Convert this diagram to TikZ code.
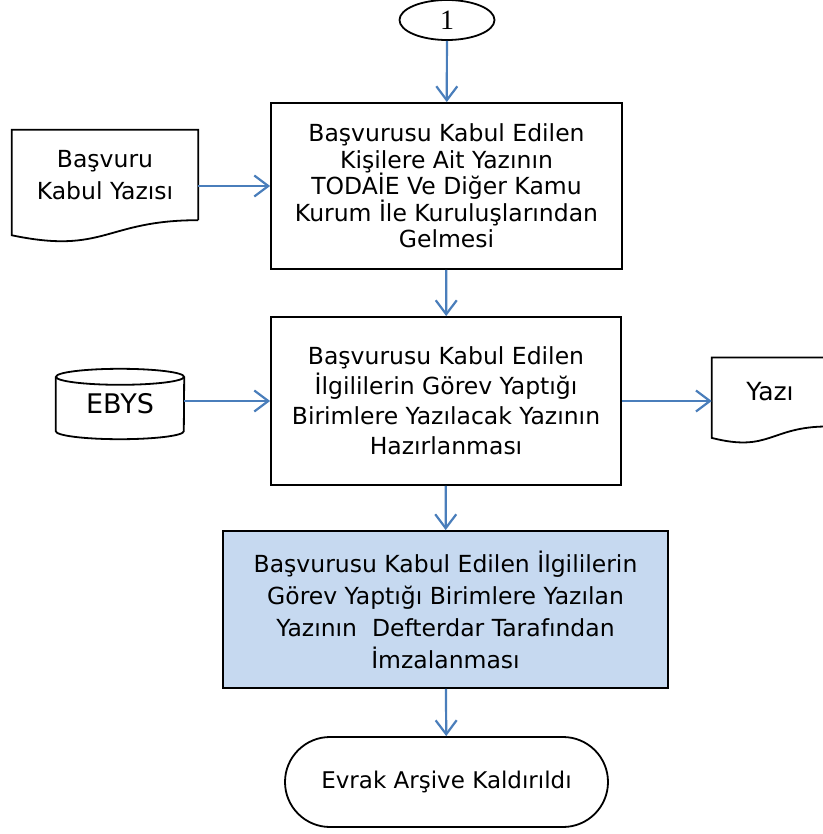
\documentclass[tikz,border=0pt]{standalone}
\usepackage{fontspec}
\setmainfont{DejaVu Sans}
\newfontfamily\rakamfont{Liberation Serif}
\usetikzlibrary{arrows.meta,shapes.geometric,calc}
\definecolor{okmavi}{RGB}{74,126,187}
\definecolor{kutumavi}{RGB}{198,217,240}
\tikzset{>={Straight Barb[length=14pt,width=21pt]}}
\tikzset{
  cizgi/.style={line width=1.8pt},
  kutu/.style={draw,cizgi,align=center,inner sep=0pt},
  belge/.style={align=center,inner sep=0pt},
  ok/.style={->,draw=okmavi,line width=2.2pt}
}

\begin{document}
\begin{tikzpicture}[x=1pt,y=-1pt]
            \useasboundingbox (0,0) rectangle (822,834);
            \node[draw,cizgi,ellipse,minimum width=95,minimum height=40] (bir) at (447,20) {\rakamfont\fontsize{28}{28}\selectfont 1};
            \node[kutu,minimum width=351,minimum height=166,font=\fontsize{23.5}{26.5}\selectfont] (kutu1) at (446.5,186)
                {Başvurusu Kabul Edilen\\Kişilere Ait Yazının\\TODAİE Ve Diğer Kamu\\Kurum İle Kuruluşlarından\\Gelmesi};
            \node[kutu,minimum width=350,minimum height=168,font=\fontsize{23.5}{30}\selectfont] (kutu2) at (446,401)
                {Başvurusu Kabul Edilen\\İlgililerin Görev Yaptığı\\Birimlere Yazılacak Yazının\\Hazırlanması};
            \node[kutu,fill=kutumavi,minimum width=445,minimum height=157,font=\fontsize{23.5}{32}\selectfont] (kutu3) at (445.5,609.5)
                {Başvurusu Kabul Edilen İlgililerin\\Görev Yaptığı Birimlere Yazılan\\Yazının~ Defterdar Tarafından\\İmzalanması};
            \node[kutu,rounded corners=45pt,minimum width=323,minimum height=90,font=\fontsize{23}{26}\selectfont] (son) at (446.5,782)
                {Evrak Arşive Kaldırıldı};
            \node[belge,minimum width=186,minimum height=90,font=\fontsize{23.5}{32}\selectfont] (basvuru) at (105,175)
                {Başvuru\\Kabul Yazısı};
            \node[belge,minimum width=116,minimum height=68.5,font=\fontsize{25}{26}\selectfont] (yazi) at (770,392)
                {Yazı};
            \node[belge,minimum width=128,minimum height=70,font=\fontsize{27}{27}\selectfont] (ebys) at (120,404)
                {EBYS};
            % belge kenarlari
            \foreach \b/\h in {basvuru/90,yazi/68.5}
                \draw[cizgi] (\b.south east) -- (\b.north east) -- (\b.north west)
                    -- ($(\b.south west)+(0,0.1675*\h)$)
                    .. controls ($(\b.south)+(0,0.384*\h)$) and (\b.south) .. (\b.south east);
            % veri tabani
            \draw[cizgi] ($(ebys.north)+(0,8)$) ellipse [x radius=64,y radius=8];
            \draw[cizgi] ($(ebys.north west)+(0,8)$) -- ($(ebys.south west)+(0,-8)$)
                arc [start angle=180,end angle=0,x radius=64,y radius=8] -- ($(ebys.north east)+(0,8)$);
            \draw[ok] (bir) -- (kutu1);
            \draw[ok] (kutu1) -- (kutu2);
            \draw[ok] (kutu2) -- (kutu3);
            \draw[ok] (kutu3) -- (son);
            \draw[ok] (basvuru.east |- kutu1.west) -- (kutu1.west);
            \draw[ok] (ebys.east |- kutu2.west) -- (kutu2.west);
            \draw[ok] (kutu2.east) -- (yazi.west |- kutu2.east);
        \end{tikzpicture}
\end{document}
